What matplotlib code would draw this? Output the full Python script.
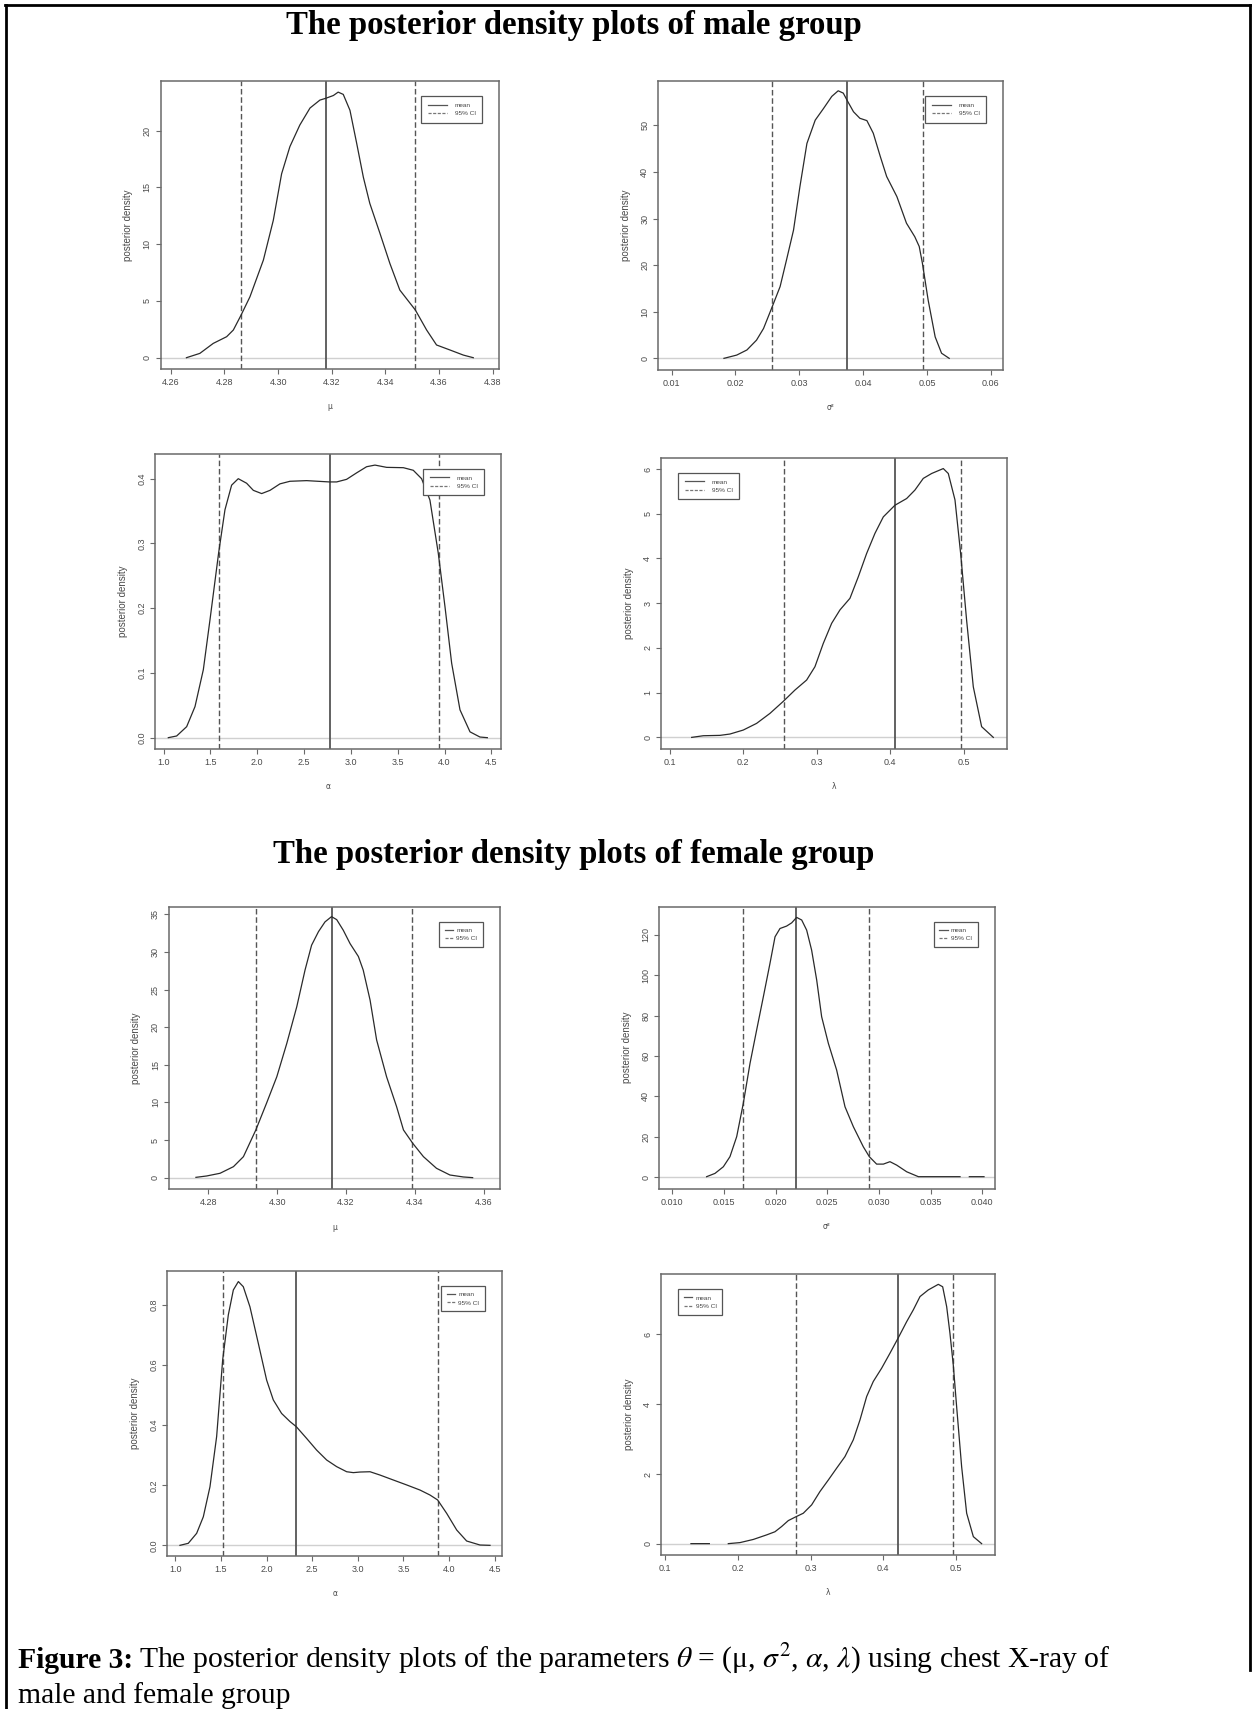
import matplotlib
matplotlib.use("Agg")
import matplotlib.pyplot as plt
from matplotlib.lines import Line2D
import numpy as np

plt.rcParams['mathtext.fontset'] = 'stix'

# ---------------- data ----------------
# male mu
m_mu_x = [4.2658, 4.2708, 4.2758, 4.2808, 4.2833, 4.2862, 4.2895, 4.2945, 4.2982, 4.3013, 4.3044, 4.3081,
          4.3119, 4.3156, 4.3177, 4.3206, 4.3224, 4.3243, 4.3268, 4.3293, 4.3318, 4.3342, 4.3380, 4.3417,
          4.3454, 4.3512, 4.3554, 4.3591, 4.3641, 4.3691, 4.3728]
m_mu_y = [0.0, 0.38, 1.26, 1.85, 2.44, 3.76, 5.37, 8.6, 12.1, 16.2, 18.6, 20.5,
          22.0, 22.7, 22.85, 23.1, 23.4, 23.2, 21.8, 18.9, 15.9, 13.6, 10.95, 8.3,
          5.96, 4.2, 2.44, 1.12, 0.68, 0.23, 0.0]
m_mu_stats = (4.3177, 4.2862, 4.3512)

# male sigma^2
m_s2_x = [0.0182, 0.0202, 0.0218, 0.0233, 0.0244, 0.0258, 0.0270, 0.0280, 0.0291, 0.0301, 0.0312, 0.0325,
          0.0338, 0.0351, 0.0361, 0.0369, 0.0376, 0.0385, 0.0395, 0.0406, 0.0416, 0.0427, 0.0437, 0.0453,
          0.0468, 0.0481, 0.0488, 0.0493, 0.0502, 0.0513, 0.0523, 0.0535]
m_s2_y = [0.0, 0.7, 1.8, 3.9, 6.4, 11.2, 15.4, 21.1, 27.5, 36.8, 46.1, 51.1,
          53.6, 56.2, 57.4, 56.9, 55.1, 52.9, 51.5, 51.0, 48.3, 43.3, 39.0, 34.7,
          29.0, 26.1, 24.0, 20.4, 12.5, 4.6, 1.1, 0.0]
m_s2_stats = (0.03753, 0.02578, 0.04934)

# male alpha
m_al_x = [1.050, 1.139, 1.246, 1.335, 1.424, 1.495, 1.587, 1.655, 1.726, 1.797, 1.886, 1.958, 2.047,
          2.136, 2.242, 2.349, 2.527, 2.769, 2.848, 2.954, 3.061, 3.168, 3.257, 3.382, 3.560, 3.666,
          3.755, 3.844, 3.933, 4.005, 4.076, 4.165, 4.272, 4.378, 4.457]
m_al_y = [0.0, 0.0026, 0.017, 0.048, 0.105, 0.182, 0.285, 0.352, 0.390, 0.400, 0.393, 0.382, 0.377,
          0.382, 0.392, 0.396, 0.397, 0.395, 0.395, 0.399, 0.409, 0.4185, 0.421, 0.4175, 0.417, 0.413,
          0.400, 0.367, 0.285, 0.202, 0.115, 0.043, 0.009, 0.001, 0.0]
m_al_stats = (2.773, 1.587, 3.937)

# male lambda
m_la_x = [0.130, 0.1458, 0.1684, 0.182, 0.2001, 0.2182, 0.2364, 0.2549, 0.2703, 0.2862, 0.2975, 0.3088,
          0.3202, 0.3315, 0.3451, 0.3564, 0.3677, 0.3790, 0.3904, 0.4062, 0.4221, 0.4334, 0.4447, 0.4561,
          0.4719, 0.4787, 0.4878, 0.4955, 0.5036, 0.5127, 0.5240, 0.5399]
m_la_y = [0.0, 0.037, 0.045, 0.075, 0.164, 0.313, 0.537, 0.812, 1.058, 1.282, 1.58, 2.10,
          2.55, 2.85, 3.11, 3.59, 4.11, 4.56, 4.93, 5.19, 5.34, 5.53, 5.79, 5.90,
          6.01, 5.90, 5.31, 4.11, 2.62, 1.13, 0.24, 0.0]
m_la_stats = (0.4062, 0.2549, 0.4955)

# female mu
f_mu_x = [4.2764, 4.2795, 4.2834, 4.2873, 4.2902, 4.2938, 4.2969, 4.2999, 4.3028, 4.3057, 4.3081, 4.3100,
          4.3120, 4.3139, 4.3158, 4.3173, 4.3192, 4.3212, 4.3236, 4.3250, 4.3270, 4.3289, 4.3318, 4.3347,
          4.3367, 4.3394, 4.3425, 4.3463, 4.3502, 4.3541, 4.3568]
f_mu_y = [0.04, 0.22, 0.58, 1.46, 2.79, 6.34, 9.88, 13.42, 17.85, 22.73, 27.6, 30.9,
          32.7, 34.0, 34.7, 34.3, 32.9, 31.1, 29.4, 27.6, 23.6, 18.3, 13.4, 9.44,
          6.34, 4.56, 2.79, 1.24, 0.35, 0.09, 0.0]
f_mu_stats = (4.3158, 4.2938, 4.3393)

# female sigma^2 (nan = gap in the drawn curve)
f_s2_x = [0.01332, 0.01413, 0.01494, 0.01558, 0.01623, 0.01687, 0.01752, 0.01816, 0.01881, 0.01945, 0.01994,
          0.02042, 0.02106, 0.02155, 0.02203, 0.02252, 0.02300, 0.02348, 0.02397, 0.02445, 0.02510, 0.02590,
          0.02671, 0.02752, 0.02848, 0.02906, 0.02977, 0.03042, 0.03106, 0.03171, 0.03268, 0.03381, 0.03784,
          np.nan, 0.03874, 0.04016]
f_s2_y = [0.17, 1.8, 5.1, 10.1, 20.0, 36.5, 56.3, 72.8, 89.3, 105.8, 119.0,
          123.1, 124.3, 125.9, 128.6, 127.3, 122.3, 112.4, 97.6, 79.4, 66.2, 53.0,
          34.8, 24.9, 15.0, 10.1, 6.4, 6.4, 7.6, 5.9, 2.6, 0.17, 0.17,
          np.nan, 0.17, 0.17]
f_s2_stats = (0.0220, 0.01684, 0.02903)

# female alpha
f_al_x = [1.051, 1.142, 1.234, 1.307, 1.380, 1.453, 1.519, 1.581, 1.636, 1.691, 1.745, 1.818, 1.910,
          2.001, 2.074, 2.165, 2.257, 2.326, 2.439, 2.549, 2.659, 2.768, 2.878, 2.951, 3.024, 3.134,
          3.243, 3.389, 3.536, 3.682, 3.791, 3.875, 3.974, 4.084, 4.193, 4.339, 4.449]
f_al_y = [0.0, 0.0067, 0.040, 0.095, 0.195, 0.362, 0.617, 0.767, 0.850, 0.878, 0.861, 0.794, 0.672,
          0.550, 0.484, 0.439, 0.412, 0.395, 0.356, 0.317, 0.284, 0.262, 0.245, 0.242, 0.244, 0.245,
          0.234, 0.2175, 0.201, 0.184, 0.1675, 0.151, 0.1065, 0.051, 0.0144, 0.0011, 0.0]
f_al_stats = (2.326, 1.519, 3.875)

# female lambda
f_la_x = [0.1353, 0.1606, np.nan, 0.1867, 0.2028, 0.2211, 0.2394, 0.2509, 0.2601, 0.2693, 0.2798, 0.2899,
          0.3014, 0.3128, 0.3243, 0.3358, 0.3472, 0.3587, 0.3679, 0.3771, 0.3862, 0.3977, 0.4092, 0.4206,
          0.4321, 0.4413, 0.4505, 0.4619, 0.4757, 0.4817, 0.4872, 0.4917, 0.4963, 0.5009, 0.5078, 0.5147,
          0.5239, 0.5353]
f_la_y = [0.01, 0.01, np.nan, 0.01, 0.04, 0.13, 0.26, 0.35, 0.50, 0.67, 0.78, 0.88,
          1.12, 1.50, 1.83, 2.17, 2.50, 2.98, 3.55, 4.22, 4.65, 5.03, 5.46, 5.90,
          6.36, 6.70, 7.08, 7.27, 7.43, 7.36, 6.79, 6.03, 5.12, 3.93, 2.21, 0.88,
          0.21, 0.01]
f_la_stats = (0.4206, 0.2798, 0.4963)

# tick labels
xt_mu_m = ["4.26", "4.28", "4.30", "4.32", "4.34", "4.36", "4.38"]
xt_s2_m = ["0.01", "0.02", "0.03", "0.04", "0.05", "0.06"]
xt_al = ["1.0", "1.5", "2.0", "2.5", "3.0", "3.5", "4.0", "4.5"]
xt_la = ["0.1", "0.2", "0.3", "0.4", "0.5"]
xt_mu_f = ["4.28", "4.30", "4.32", "4.34", "4.36"]
xt_s2_f = ["0.010", "0.015", "0.020", "0.025", "0.030", "0.035", "0.040"]
yt_mu_m = ["0", "5", "10", "15", "20"]
yt_s2_m = ["0", "10", "20", "30", "40", "50"]
yt_al_m = ["0.0", "0.1", "0.2", "0.3", "0.4"]
yt_la_m = ["0", "1", "2", "3", "4", "5", "6"]
yt_mu_f = ["0", "5", "10", "15", "20", "25", "30", "35"]
yt_s2_f = ["0", "20", "40", "60", "80", "100", "120"]
yt_al_f = ["0.0", "0.2", "0.4", "0.6", "0.8"]
yt_la_f = ["0", "2", "4", "6"]

legend_labels = ["mean", "95% CI"]
title_male = "The posterior density plots of male group"
title_female = "The posterior density plots of female group"

# ---------------- layout ----------------
W, H = 1252, 1709
fig = plt.figure(figsize=(W / 100, H / 100), dpi=100)

panels = [
    ((160.7, 81, 499, 369), m_mu_x, m_mu_y, m_mu_stats, (4.2562, 4.3824), (-0.996, 24.38), xt_mu_m, yt_mu_m, "μ", "right", "big"),
    ((658.3, 81, 1003, 370), m_s2_x, m_s2_y, m_s2_stats, (0.00791, 0.06193), (-2.5, 59.5), xt_s2_m, yt_s2_m, "σ²", "right", "big"),
    ((155.3, 453.7, 501, 749), m_al_x, m_al_y, m_al_stats, (0.911, 4.603), (-0.0175, 0.4386), xt_al, yt_al_m, "α", "right", "big"),
    ((661.3, 457.7, 1007.3, 748.7), m_la_x, m_la_y, m_la_stats, (0.0887, 0.5589), (-0.253, 6.253), xt_la, yt_la_m, "λ", "left", "big"),
    ((169, 906.7, 500, 1189.3), f_mu_x, f_mu_y, f_mu_stats, (4.26857, 4.36475), (-1.55, 36.02), xt_mu_f, yt_mu_f, "μ", "right", "small"),
    ((659.3, 906.7, 994.7, 1188.7), f_s2_x, f_s2_y, f_s2_stats, (0.008742, 0.041194), (-5.78, 133.9), xt_s2_f, yt_s2_f, "σ²", "right", "small"),
    ((167.3, 1271, 502, 1556), f_al_x, f_al_y, f_al_stats, (0.9123, 4.5804), (-0.0355, 0.9132), xt_al, yt_al_f, "α", "right", "small"),
    ((661.3, 1274.3, 995, 1555), f_la_x, f_la_y, f_la_stats, (0.0945, 0.5537), (-0.315, 7.717), xt_la, yt_la_f, "λ", "left", "small"),
]

sans = ['Liberation Sans Narrow', 'Liberation Sans', 'DejaVu Sans']
box_col = '#6a6a6a'
txt_col = '#4a4a4a'

for (l, t, r, b), xs, ys, (mean, lo, hi), xlim, ylim, xtl, ytl, xlab, legside, legsize in panels:
    ax = fig.add_axes([l / W, 1 - b / H, (r - l) / W, (b - t) / H])
    ax.set_xlim(*xlim)
    ax.set_ylim(*ylim)
    ax.axhline(0, color='#d0d0d0', lw=1.0, zorder=1)
    ax.plot(xs, ys, color='#2a2a2a', lw=0.9, zorder=3)
    ax.axvline(mean, color='#555555', lw=1.3, ls='-', zorder=2)
    for v in (lo, hi):
        ax.axvline(v, color='#555555', lw=1.0, ls=(0, (4, 2)), zorder=2)
    ax.set_xticks([float(s) for s in xtl])
    ax.set_xticklabels(xtl, family=sans, fontsize=6.5, color=txt_col)
    ax.set_yticks([float(s) for s in ytl])
    ax.set_yticklabels(ytl, family=sans, fontsize=6.5, color=txt_col, rotation=90, va='center')
    ax.tick_params(direction='out', length=3.5, width=0.8, color=box_col, pad=3)
    for sp in ax.spines.values():
        sp.set_color(box_col)
        sp.set_linewidth(1.1)
    ax.set_ylabel("posterior density", family=sans, fontsize=7, color=txt_col, labelpad=7)
    ax.set_xlabel(xlab, family=['DejaVu Sans'], fontsize=5.5, color=txt_col, labelpad=11)

    handles = [Line2D([], [], color='#555555', lw=0.9, ls='-'),
               Line2D([], [], color='#777777', lw=0.9, ls=(0, (2.5, 1.2)))]
    wpx, hpx = r - l, b - t
    if legside == "right":
        loc = 'upper right'
        anchor = (1 - 17 / wpx, 1 - 15 / hpx)
    else:
        loc = 'upper left'
        anchor = (17 / wpx, 1 - 15 / hpx)
    big = legsize == "big"
    leg = ax.legend(handles, legend_labels, loc=loc, bbox_to_anchor=anchor, borderaxespad=0,
                    handlelength=3.0 if big else 1.3, handletextpad=1.2 if big else 0.5,
                    borderpad=1.0 if big else 0.9, labelspacing=0.45, fancybox=False, framealpha=1,
                    prop={'family': sans, 'size': 4.6})
    leg.get_frame().set_edgecolor('#555555')
    leg.get_frame().set_linewidth(0.9)
    for tx in leg.get_texts():
        tx.set_color('#444444')

# titles
serif = ['Liberation Serif', 'DejaVu Serif']
fig.text(574 / W, 1 - 34 / H, title_male, ha='center', va='baseline', family=serif,
         fontweight='bold', fontsize=23.6)
fig.text(574 / W, 1 - 863 / H, title_female, ha='center', va='baseline', family=serif,
         fontweight='bold', fontsize=23.6)

# caption
cap_size = 21.3
t1 = fig.text(18 / W, 1 - 1668 / H, "Figure 3:", ha='left', va='baseline', family=serif,
              fontweight='bold', fontsize=cap_size)
fig.canvas.draw()
bb = t1.get_window_extent(renderer=fig.canvas.get_renderer())
fig.text((bb.x1 + 6) / W, 1 - 1668 / H,
         r"The posterior density plots of the parameters $\theta$ = (μ, $\sigma^2$, $\alpha$, $\lambda$) using chest X-ray of",
         ha='left', va='baseline', family=serif, fontsize=cap_size)
fig.text(18 / W, 1 - 1703 / H, "male and female group", ha='left', va='baseline', family=serif,
         fontsize=cap_size)

# outer frame
frame = dict(color='black', lw=2.0, transform=fig.transFigure, clip_on=False)
fig.add_artist(Line2D([5 / W, 1249.5 / W], [1 - 5 / H, 1 - 5 / H], **frame))
fig.add_artist(Line2D([5.5 / W, 5.5 / W], [1 - 5 / H, 0], **frame))
fig.add_artist(Line2D([1249.5 / W, 1249.5 / W], [1 - 5 / H, 1 - 1670 / H], **frame))

fig.savefig("out.png", dpi=100)
